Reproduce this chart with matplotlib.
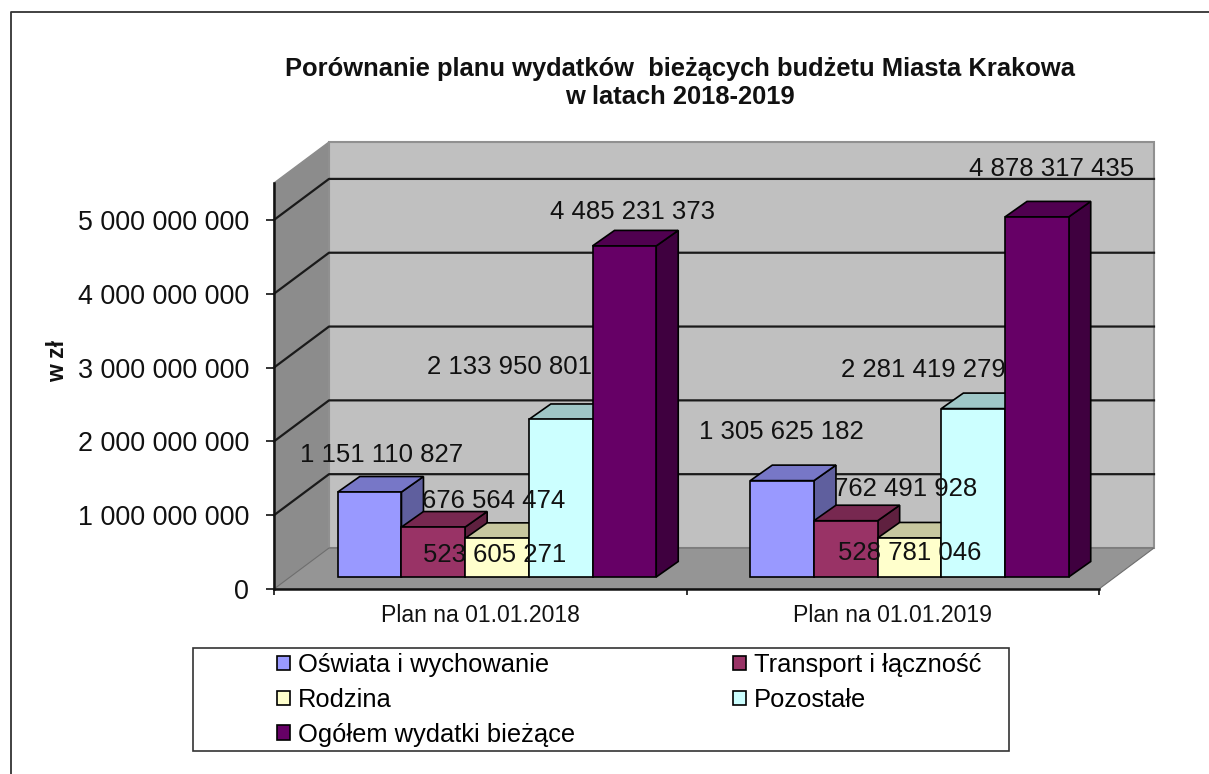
#!/usr/bin/env python3
import matplotlib
matplotlib.use("Agg")
import matplotlib.pyplot as plt
import numpy as np
from matplotlib.lines import Line2D
from matplotlib.patches import Polygon, Rectangle
from matplotlib.transforms import Affine2D, IdentityTransform

plt.rcParams['font.family'] = ['Liberation Sans', 'DejaVu Sans']

# -------------------------------------------------------
# Data
# -------------------------------------------------------
categories = ["Plan na 01.01.2018", "Plan na 01.01.2019"]
series_names = ["Oświata i wychowanie", "Transport i łączność", "Rodzina",
                "Pozostałe", "Ogółem wydatki bieżące"]
oswiata = [1151110827, 1305625182]
transport = [676564474, 762491928]
rodzina = [523605271, 528781046]
pozostale = [2133950801, 2281419279]
ogolem = [4485231373, 4878317435]
y_ticks = [0, 1000000000, 2000000000, 3000000000, 4000000000, 5000000000]
y_tick_labels = ["0", "1 000 000 000", "2 000 000 000", "3 000 000 000",
                 "4 000 000 000", "5 000 000 000"]

series_values = [oswiata, transport, rodzina, pozostale, ogolem]
colors = ["#9999FF", "#993366", "#FFFFCC", "#CCFFFF", "#660066"]

# label offsets from the top of each bar, pixels (per series, per category)
label_offsets = [
    [(11.5, 37), (-1, 49)],
    [(60.5, 26.5), (59.5, 32)],
    [(-2, -17), (0, -15)],
    [(-51, 52), (-50, 39)],
    [(8, 34), (15, 48)],
]

# 3D look, in pixels
WALL_DX, WALL_DY = 55, 41
BAR_DX, BAR_DY = 16.75, 12
DEPTH_DX, DEPTH_DY = 22, 15.5
BAR_W = 0.1544
YMAX = 5.5e9


def fmt(v):
    return f"{v:,}".replace(",", " ")


def shade(col, k):
    rgb = np.array(matplotlib.colors.to_rgb(col)) * k
    return tuple(rgb)


fig = plt.figure(figsize=(12.09, 7.74), dpi=100, facecolor="white")
ax = fig.add_axes([274 / 1209, 1 - 589 / 774, 825 / 1209, 406 / 774])
ax.set_xlim(-0.5, 1.5)
ax.set_ylim(0, YMAX)
ax.patch.set_visible(False)


def px(x, y, dx=0, dy=0):
    return ax.transData.transform((x, y)) + np.array([dx, dy])


def poly(points, **kw):
    p = Polygon(points, closed=True, transform=IdentityTransform(),
                clip_on=False, **kw)
    ax.add_patch(p)
    return p


# -------------------------------------------------------
# Walls and floor
# -------------------------------------------------------
x0, x1 = ax.get_xlim()
poly([px(x0, 0), px(x0, YMAX), px(x0, YMAX, WALL_DX, WALL_DY), px(x0, 0, WALL_DX, WALL_DY)],
     facecolor="#8C8C8C", edgecolor="#8C8C8C", lw=1, zorder=1)
poly([px(x0, 0, WALL_DX, WALL_DY), px(x0, YMAX, WALL_DX, WALL_DY),
      px(x1, YMAX, WALL_DX, WALL_DY), px(x1, 0, WALL_DX, WALL_DY)],
     facecolor="#C0C0C0", edgecolor="#909090", lw=1.5, zorder=1)
poly([px(x0, 0), px(x1, 0), px(x1, 0, WALL_DX, WALL_DY), px(x0, 0, WALL_DX, WALL_DY)],
     facecolor="#959595", edgecolor="#6E6E6E", lw=0.8, zorder=2)

for v in y_ticks[1:]:
    pts = np.array([px(x0, v), px(x0, v, WALL_DX, WALL_DY), px(x1, v, WALL_DX, WALL_DY)])
    ax.add_line(Line2D(pts[:, 0], pts[:, 1], transform=IdentityTransform(),
                       color="#1A1A1A", lw=1.6, clip_on=False, zorder=3))

# -------------------------------------------------------
# Bars
# -------------------------------------------------------
bar_tf = ax.transData + Affine2D().translate(BAR_DX, BAR_DY)
cat_x = np.arange(len(categories))
handles = []
z = 4
for i, (vals, col) in enumerate(zip(series_values, colors)):
    xs = cat_x + (i - 2) * BAR_W
    for x, v in zip(xs, vals):
        left, right = x - BAR_W / 2, x + BAR_W / 2
        d = (BAR_DX, BAR_DY)
        b = (BAR_DX + DEPTH_DX, BAR_DY + DEPTH_DY)
        poly([px(right, 0, *d), px(right, v, *d), px(right, v, *b), px(right, 0, *b)],
             facecolor=shade(col, 0.62), edgecolor="black", lw=1.2, zorder=z)
        poly([px(left, v, *d), px(right, v, *d), px(right, v, *b), px(left, v, *b)],
             facecolor=shade(col, 0.78), edgecolor="black", lw=1.2, zorder=z)
    bars = ax.bar(xs, vals, BAR_W, color=col, edgecolor="black", linewidth=1.2,
                  transform=bar_tf, clip_on=False, zorder=z + 1, label=series_names[i])
    handles.append(bars)
    z += 2

ax.set_xlim(x0, x1)
ax.set_ylim(0, YMAX)

# data labels
for i, vals in enumerate(series_values):
    xs = cat_x + (i - 2) * BAR_W
    for j, v in enumerate(vals):
        ax.annotate(fmt(v), (xs[j], v), xycoords=bar_tf, xytext=label_offsets[i][j],
                    textcoords="offset pixels", ha="center", va="center",
                    fontsize=18.5, color="#111111", zorder=30, annotation_clip=False)

# -------------------------------------------------------
# Axes
# -------------------------------------------------------
for s in ["top", "right"]:
    ax.spines[s].set_visible(False)
for s in ["left", "bottom"]:
    ax.spines[s].set_linewidth(1.8)
    ax.spines[s].set_color("#111111")
    ax.spines[s].set_zorder(3.5)

ax.set_yticks(y_ticks)
ax.set_yticklabels(y_tick_labels, fontsize=19.4)
ax.tick_params(axis="y", length=5.8, width=1.2, pad=12, colors="#111111")
ax.set_xticks([-0.5, 0.5, 1.5])
ax.set_xticklabels([])
ax.tick_params(axis="x", which="major", length=4, width=1.2, colors="#111111")
ax.set_xticks(cat_x, minor=True)
ax.set_xticklabels(categories, minor=True, fontsize=16.6)
ax.tick_params(axis="x", which="minor", length=0, pad=11, colors="#111111")

fig.text(58 / 1209, 1 - 361 / 774, "w zł", rotation=90, ha="center", va="center",
         fontsize=16.5, fontweight="bold", color="#111111")
fig.text(680 / 1209, 1 - 83 / 774,
         "Porównanie planu wydatków  bieżących budżetu Miasta Krakowa\nw latach 2018-2019",
         ha="center", va="center", fontsize=18.4, fontweight="bold", color="#111111",
         linespacing=1.24)

# -------------------------------------------------------
# Legend
# -------------------------------------------------------
fig.add_artist(Rectangle((193 / 1209, 1 - 750.5 / 774), 816 / 1209, 102.5 / 774,
                         transform=fig.transFigure, facecolor="white",
                         edgecolor="#333333", lw=1.2))
order = [0, 2, 4, 1, 3]
fig.legend([handles[k] for k in order], [series_names[k] for k in order],
           ncol=2, frameon=False, loc="upper left",
           bbox_to_anchor=(267 / 1209, 1 - 643 / 774), fontsize=18.4,
           handlelength=0.5, handleheight=0.5, handletextpad=0.31,
           columnspacing=6.2, labelspacing=0.42, borderaxespad=0, borderpad=0.4)

# page frame
fig.add_artist(Line2D([10.5 / 1209, 10.5 / 1209, 1], [0, 1 - 12 / 774, 1 - 12 / 774],
                      transform=fig.transFigure, color="#333333", lw=1.3))

fig.savefig("out.png", dpi=100)
